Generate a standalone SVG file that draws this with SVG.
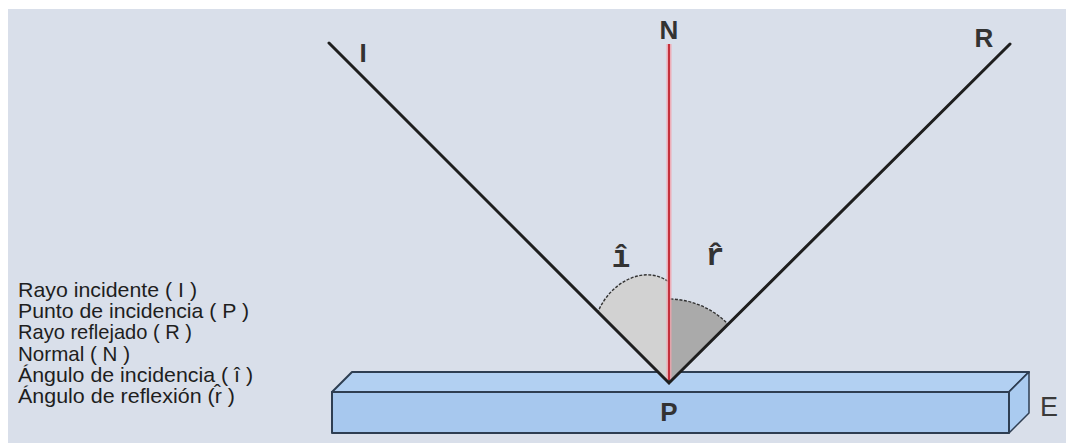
<svg xmlns="http://www.w3.org/2000/svg" width="1072" height="443" viewBox="0 0 1072 443">
<style>
.bg{fill:#D9DFEA}
.slab{fill:#A7C8EE;stroke:#2E3E52;stroke-width:2;stroke-linejoin:round}
.slabtop{fill:#B2D0F2;stroke:#2E3E52;stroke-width:2;stroke-linejoin:round}
.slabside{fill:#AACBF0;stroke:#2E3E52;stroke-width:1.5;stroke-linejoin:round}
.ray{stroke:#1E1E1E;stroke-width:3;fill:none;stroke-linecap:round}
.lbl{font-family:"Liberation Sans",Arial,sans-serif;font-size:26px;font-weight:bold;fill:#333;text-anchor:middle}
.lbln{font-family:"Liberation Sans",Arial,sans-serif;font-size:27px;fill:#3A3A3A;text-anchor:middle}
.hat{font-family:"Liberation Mono","DejaVu Sans Mono",monospace;font-weight:bold;font-size:31px;fill:#333;text-anchor:middle}
.leg{font-family:"Liberation Sans",Arial,sans-serif;font-size:21px;fill:#1E1E1E}
.arc{stroke:#333;stroke-width:1.4;stroke-dasharray:3 1.5}
</style>
<rect x="0" y="0" width="1072" height="443" fill="#FFFFFF"/>
<rect class="bg" x="8" y="9" width="1058" height="434"/>

<g id="mirror">
  <polygon class="slabtop" points="332,392 352,372 1029,372 1009,392"/>
  <polygon class="slabside" points="1009,392 1029,372 1029,413 1009,433"/>
  <rect class="slab" x="332" y="392" width="677" height="41"/>
  <text class="lbln" x="1049" y="416">E</text>
</g>

<g id="angles">
  <path id="angle-i" class="arc" d="M669,383 L598,312 C610,282 645,264 669,282 Z" fill="#D2D2D2"/>
  <path id="angle-r" class="arc" d="M669,383 L669,299 A84,84 0 0 1 728,324 Z" fill="#AAAAAA"/>
  <text class="hat" x="621" y="267">î</text>
  <text class="hat" x="715" y="265">r̂</text>
</g>

<g id="connectors">
  <line x1="669" y1="44" x2="669" y2="380" stroke="#F2A3AC" stroke-width="5" opacity="0.8"/>
  <line id="normal" x1="669" y1="44" x2="669" y2="380" stroke="#C4303C" stroke-width="2"/>
  <polyline id="incident-reflected" class="ray" points="329,43 669,383 1010,44" stroke-linejoin="miter"/>
</g>

<g id="point-labels">
  <text class="lbl" x="363" y="62">I</text>
  <text class="lbl" x="669" y="39">N</text>
  <text class="lbl" x="984" y="47">R</text>
  <text class="lbl" x="669" y="421">P</text>
</g>

<g id="legend">
  <text class="leg" x="18" y="297" textLength="179" lengthAdjust="spacingAndGlyphs">Rayo incidente ( I )</text>
  <text class="leg" x="18" y="318" textLength="231" lengthAdjust="spacingAndGlyphs">Punto de incidencia ( P )</text>
  <text class="leg" x="18" y="339" textLength="174" lengthAdjust="spacingAndGlyphs">Rayo reflejado ( R )</text>
  <text class="leg" x="18" y="361" textLength="112" lengthAdjust="spacingAndGlyphs">Normal ( N )</text>
  <text class="leg" x="18" y="382" textLength="235" lengthAdjust="spacingAndGlyphs">Ángulo de incidencia ( î )</text>
  <text class="leg" x="18" y="403" textLength="217" lengthAdjust="spacingAndGlyphs">Ángulo de reflexión (r̂ )</text>
</g>
</svg>
